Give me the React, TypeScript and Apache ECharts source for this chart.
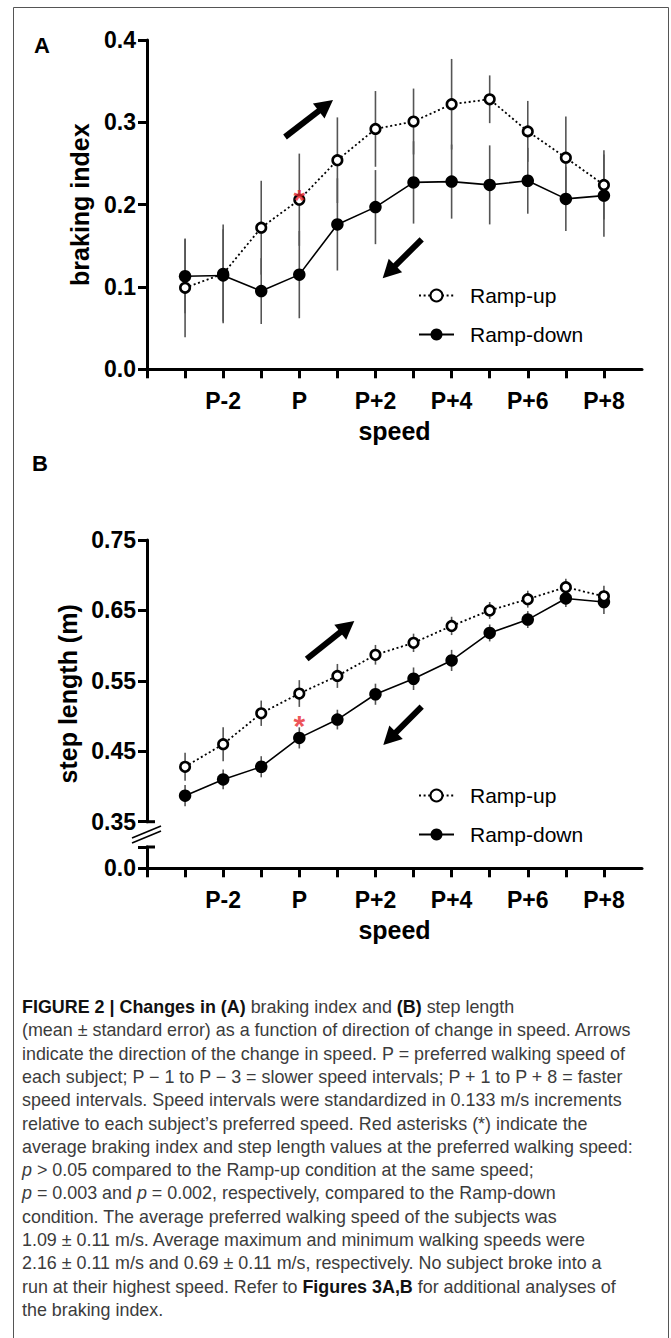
import React, { useEffect, useRef } from "react";
import * as echarts from "echarts";

const FONT = "'Liberation Sans', Arial, Helvetica, sans-serif";

// speed levels (x categories)
const speedLevels = ["P-3", "P-2", "P-1", "P", "P+1", "P+2", "P+3", "P+4", "P+5", "P+6", "P+7", "P+8"];
const xTickLabels = ["P-2", "P", "P+2", "P+4", "P+6", "P+8"];
const seriesNames = ["Ramp-up", "Ramp-down"];

// Panel A: braking index (mean, SE)
const brakingUp = [0.099, 0.116, 0.172, 0.206, 0.254, 0.292, 0.301, 0.322, 0.328, 0.289, 0.257, 0.224];
const brakingUpSE = [0.06, 0.06, 0.057, 0.056, 0.052, 0.046, 0.04, 0.055, 0.029, 0.037, 0.05, 0.042];
const brakingDown = [0.113, 0.114, 0.095, 0.115, 0.176, 0.197, 0.227, 0.228, 0.224, 0.229, 0.207, 0.211];
const brakingDownSE = [0.045, 0.056, 0.04, 0.053, 0.056, 0.045, 0.05, 0.045, 0.048, 0.04, 0.039, 0.05];
const brakingStar = [["P", 0.217]];

// Panel B: step length (m) (mean, SE)
const stepUp = [0.428, 0.46, 0.504, 0.532, 0.557, 0.587, 0.604, 0.628, 0.65, 0.666, 0.683, 0.67];
const stepUpSE = [0.02, 0.024, 0.018, 0.019, 0.017, 0.014, 0.013, 0.013, 0.012, 0.012, 0.012, 0.015];
const stepDown = [0.387, 0.41, 0.428, 0.469, 0.495, 0.531, 0.553, 0.579, 0.618, 0.637, 0.667, 0.662];
const stepDownSE = [0.015, 0.014, 0.015, 0.015, 0.014, 0.015, 0.016, 0.015, 0.012, 0.012, 0.012, 0.017];
const stepStar = [["P", 0.499]];

// axis ranges [min, max, step]
const brakingAxis = [0, 0.4, 0.1];
const stepAxis = [0.35, 0.75, 0.1];

const captionLines = [
  "{b|FIGURE 2 | Changes in (A)} braking index and {b|(B)} step length",
  "(mean ± standard error) as a function of direction of change in speed. Arrows",
  "indicate the direction of the change in speed. P = preferred walking speed of",
  "each subject; P − 1 to P − 3 = slower speed intervals; P + 1 to P + 8 = faster",
  "speed intervals. Speed intervals were standardized in 0.133 m/s increments",
  "relative to each subject’s preferred speed. Red asterisks (*) indicate the",
  "average braking index and step length values at the preferred walking speed:",
  "{i|p} > 0.05 compared to the Ramp-up condition at the same speed;",
  "{i|p} = 0.003 and {i|p} = 0.002, respectively, compared to the Ramp-down",
  "condition. The average preferred walking speed of the subjects was",
  "1.09 ± 0.11 m/s. Average maximum and minimum walking speeds were",
  "2.16 ± 0.11 m/s and 0.69 ± 0.11 m/s, respectively. No subject broke into a",
  "run at their highest speed. Refer to {b|Figures 3A,B} for additional analyses of",
  "the braking index.",
];

const axisCats = ["", ...speedLevels, ""];

function arrow(tail: number[], tip: number[]) {
  const dx = tip[0] - tail[0];
  const dy = tip[1] - tail[1];
  const L = Math.hypot(dx, dy);
  const ux = dx / L, uy = dy / L;
  const nx = -uy, ny = ux;
  const head = 18, half = 9.5;
  const bx = tip[0] - ux * head, by = tip[1] - uy * head;
  return [
    { type: "line", shape: { x1: tail[0], y1: tail[1], x2: bx + ux * 3, y2: by + uy * 3 }, style: { stroke: "#000", lineWidth: 6 } },
    {
      type: "polygon",
      shape: { points: [[tip[0], tip[1]], [bx + nx * half, by + ny * half], [bx - nx * half, by - ny * half]] },
      style: { fill: "#000" },
    },
  ];
}

function errSeries(name: string, xi: number, yi: number, means: number[], ses: number[]) {
  return {
    type: "custom",
    name,
    xAxisIndex: xi,
    yAxisIndex: yi,
    silent: true,
    data: speedLevels.map((c, i) => [c, means[i] - ses[i], means[i] + ses[i]]),
    encode: { x: 0, y: [1, 2] },
    renderItem: (params: any, api: any) => {
      const lo = api.coord([api.value(0), api.value(1)]);
      const hi = api.coord([api.value(0), api.value(2)]);
      return {
        type: "line",
        shape: { x1: lo[0], y1: lo[1], x2: hi[0], y2: hi[1] },
        style: { stroke: "#555", lineWidth: 1.6 },
      };
    },
  };
}

function upSeries(xi: number, yi: number, values: number[]) {
  return {
    type: "line",
    name: seriesNames[0],
    xAxisIndex: xi,
    yAxisIndex: yi,
    data: speedLevels.map((c, i) => [c, values[i]]),
    symbol: "circle",
    symbolSize: 9.5,
    itemStyle: { color: "#fff", borderColor: "#000", borderWidth: 2.6 },
    lineStyle: { color: "#000", width: 1.8, type: [2, 2.6] },
  };
}

function downSeries(xi: number, yi: number, values: number[]) {
  return {
    type: "line",
    name: seriesNames[1],
    xAxisIndex: xi,
    yAxisIndex: yi,
    data: speedLevels.map((c, i) => [c, values[i]]),
    symbol: "circle",
    symbolSize: 12.5,
    itemStyle: { color: "#000" },
    lineStyle: { color: "#000", width: 1.6 },
  };
}

function starSeries(xi: number, yi: number, data: any[]) {
  return {
    type: "scatter",
    name: "star",
    xAxisIndex: xi,
    yAxisIndex: yi,
    data,
    symbolSize: 1,
    z: 20,
    silent: true,
    itemStyle: { color: "rgba(0,0,0,0)" },
    label: {
      show: true,
      formatter: "*",
      position: "inside",
      color: "#e8262d",
      fontSize: 30,
      fontWeight: "bold",
      fontFamily: FONT,
      offset: [0, 9],
    },
  };
}

const tickLabelStyle = { fontSize: 23, fontWeight: "bold", color: "#000", fontFamily: FONT };
const titleStyle = { fontSize: 25, fontWeight: "bold", color: "#000", fontFamily: FONT };

function xAxisFor(gridIndex: number, visible: boolean) {
  return {
    gridIndex,
    type: "category",
    data: axisCats,
    boundaryGap: false,
    show: visible,
    axisLine: { show: true, lineStyle: { color: "#000", width: 3 } },
    axisTick: {
      show: true,
      length: 9,
      lineStyle: { color: "#000", width: 3 },
      interval: (idx: number) => idx < axisCats.length - 1,
    },
    axisLabel: {
      ...tickLabelStyle,
      margin: 20,
      interval: (idx: number, val: string) => xTickLabels.includes(val),
    },
    name: visible ? "speed" : "",
    nameLocation: "middle",
    nameGap: 49,
    nameTextStyle: titleStyle,
  };
}

export default function App() {
  const ref = useRef<HTMLDivElement>(null);
  useEffect(() => {
    if (!ref.current) return;
    const chart = echarts.init(ref.current, null, { renderer: "svg" });

    const graphics: any[] = [
      { type: "rect", shape: { x: 13.5, y: 7.5, width: 655, height: 1345 }, style: { fill: "none", stroke: "#555", lineWidth: 1 } },
      { type: "text", x: 42, y: 45, style: { text: "A", fontSize: 22, fontWeight: "bold", fontFamily: FONT, fill: "#000", align: "center", verticalAlign: "middle" } },
      { type: "text", x: 40, y: 463, style: { text: "B", fontSize: 22, fontWeight: "bold", fontFamily: FONT, fill: "#000", align: "center", verticalAlign: "middle" } },
      ...arrow([285, 137], [333, 100]),
      ...arrow([421.7, 239.3], [382.7, 278.3]),
      ...arrow([306.7, 659], [354.3, 621]),
      ...arrow([421.7, 706.7], [383.3, 745]),
      // axis break marks
      { type: "line", shape: { x1: 132, y1: 838, x2: 161, y2: 826 }, style: { stroke: "#000", lineWidth: 1.6 } },
      { type: "line", shape: { x1: 132, y1: 843, x2: 161, y2: 831 }, style: { stroke: "#000", lineWidth: 1.6 } },
      { type: "line", shape: { x1: 146, y1: 821.7, x2: 155, y2: 821.7 }, style: { stroke: "#000", lineWidth: 3 } },
      { type: "line", shape: { x1: 146, y1: 847, x2: 155, y2: 847 }, style: { stroke: "#000", lineWidth: 3 } },
    ];

    captionLines.forEach((line, i) => {
      graphics.push({
        type: "text",
        x: 22,
        y: 1007 + i * 23.3,
        style: {
          text: line,
          fontSize: 17.9,
          fontFamily: FONT,
          fill: "#3c3c3c",
          verticalAlign: "middle",
          rich: {
            b: { fontSize: 17.9, fontFamily: FONT, fontWeight: "bold", fill: "#111" },
            i: { fontSize: 17.9, fontFamily: FONT, fontStyle: "italic", fill: "#3c3c3c" },
          },
        },
      });
    });

    const legendBase = {
      data: seriesNames,
      orient: "vertical",
      left: 413,
      itemWidth: 35,
      itemHeight: 15,
      itemGap: 16,
      selectedMode: false,
      textStyle: { fontSize: 21, fontFamily: FONT, color: "#000", lineHeight: 23, padding: [0, 0, 0, 11] },
    };

    const option: any = {
      animation: false,
      backgroundColor: "#fff",
      grid: [
        { left: 147, top: 40, width: 495, height: 329.3 },
        { left: 147, top: 540, width: 495, height: 281.7 },
        { left: 147, top: 847, width: 495, height: 21.3 },
      ],
      legend: [
        { ...legendBase, top: 279 },
        { ...legendBase, top: 779 },
      ],
      xAxis: [xAxisFor(0, true), xAxisFor(1, false), xAxisFor(2, true)],
      yAxis: [
        {
          gridIndex: 0,
          type: "value",
          min: brakingAxis[0],
          max: brakingAxis[1],
          interval: brakingAxis[2],
          axisLine: { show: true, lineStyle: { color: "#000", width: 3 } },
          axisTick: { show: true, length: 9, lineStyle: { color: "#000", width: 3 } },
          splitLine: { show: false },
          axisLabel: { ...tickLabelStyle, margin: 11, formatter: (v: number) => v.toFixed(1) },
          name: "braking index",
          nameLocation: "middle",
          nameGap: 55,
          nameTextStyle: titleStyle,
        },
        {
          gridIndex: 1,
          type: "value",
          min: stepAxis[0],
          max: stepAxis[1],
          interval: stepAxis[2],
          axisLine: { show: true, lineStyle: { color: "#000", width: 3 } },
          axisTick: { show: true, length: 9, lineStyle: { color: "#000", width: 3 } },
          splitLine: { show: false },
          axisLabel: { ...tickLabelStyle, margin: 11, formatter: (v: number) => v.toFixed(2) },
          name: "step length (m)",
          nameLocation: "middle",
          nameGap: 55,
          nameTextStyle: { ...titleStyle, padding: [0, 26, 0, 0] },
        },
        {
          gridIndex: 2,
          type: "value",
          min: 0,
          max: 1,
          interval: 1,
          axisLine: { show: true, lineStyle: { color: "#000", width: 3 } },
          axisTick: { show: true, length: 9, lineStyle: { color: "#000", width: 3 } },
          splitLine: { show: false },
          axisLabel: { ...tickLabelStyle, margin: 11, formatter: (v: number) => (v === 0 ? "0.0" : "") },
        },
      ],
      series: [
        errSeries("errUpA", 0, 0, brakingUp, brakingUpSE),
        errSeries("errDownA", 0, 0, brakingDown, brakingDownSE),
        upSeries(0, 0, brakingUp),
        downSeries(0, 0, brakingDown),
        starSeries(0, 0, brakingStar),
        errSeries("errUpB", 1, 1, stepUp, stepUpSE),
        errSeries("errDownB", 1, 1, stepDown, stepDownSE),
        downSeries(1, 1, stepDown),
        upSeries(1, 1, stepUp),
        starSeries(1, 1, stepStar),
      ],
      graphic: graphics,
    };

    chart.setOption(option);
    return () => chart.dispose();
  }, []);

  return (
    <div
      ref={ref}
      style={{ position: "absolute", left: 0, top: 0, width: 671, height: 1338, background: "#fff" }}
    />
  );
}
